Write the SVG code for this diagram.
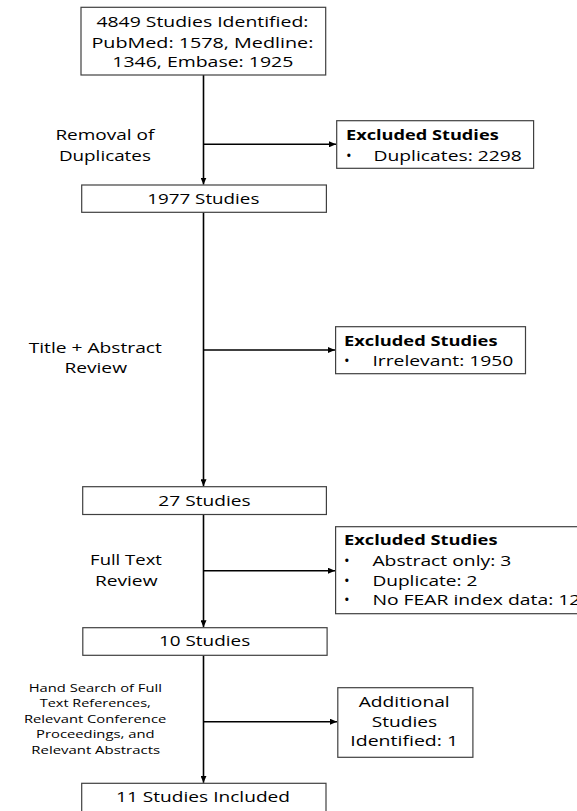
<svg xmlns="http://www.w3.org/2000/svg" width="577" height="811" viewBox="0 0 577 811">
<style>
  .box { fill: #ffffff; stroke: #404040; stroke-width: 1.2; }
  .t { font-family: "Open Sans", "Liberation Sans", sans-serif; font-size: 15px; fill: #000000; }
  .c { text-anchor: middle; }
  .b { font-weight: bold; }
  .s { font-family: "Open Sans", "Liberation Sans", sans-serif; font-size: 11.5px; fill: #000000; text-anchor: middle; }
  .conn { stroke: #000000; stroke-width: 1.6; fill: none; marker-end: url(#arrow); }
</style>
<defs>
  <marker id="arrow" markerUnits="userSpaceOnUse" markerWidth="8" markerHeight="6" refX="7" refY="3" orient="auto">
    <path d="M0,0 L7,3 L0,6 Z" fill="#000000"/>
  </marker>
</defs>
<rect x="0" y="0" width="577" height="811" fill="#ffffff"/>

<g id="connectors">
  <line class="conn" x1="203.5" y1="75" x2="203.5" y2="184.5"/>
  <line class="conn" x1="203.5" y1="144.3" x2="336" y2="144.3"/>
  <line class="conn" x1="203.5" y1="212.3" x2="203.5" y2="486.2"/>
  <line class="conn" x1="203.5" y1="350" x2="335" y2="350"/>
  <line class="conn" x1="203.5" y1="514.5" x2="203.5" y2="627.2"/>
  <line class="conn" x1="203.5" y1="570.7" x2="335" y2="570.7"/>
  <line class="conn" x1="203.5" y1="655.3" x2="203.5" y2="782.8"/>
  <line class="conn" x1="203.5" y1="721.7" x2="337" y2="721.7"/>
</g>

<g id="n_identified">
  <rect class="box" x="81" y="7.3" width="244.7" height="67.7"/>
  <text class="t c" x="202.4" y="27.2" textLength="212" lengthAdjust="spacingAndGlyphs">4849 Studies Identified:</text>
  <text class="t c" x="202.4" y="48.2" textLength="222" lengthAdjust="spacingAndGlyphs">PubMed: 1578, Medline:</text>
  <text class="t c" x="202.8" y="67.2" textLength="181" lengthAdjust="spacingAndGlyphs">1346, Embase: 1925</text>
</g>

<g id="l_removal">
  <text class="t c" x="104.9" y="139.5" textLength="99" lengthAdjust="spacingAndGlyphs">Removal of</text>
  <text class="t c" x="104.9" y="160.5" textLength="92" lengthAdjust="spacingAndGlyphs">Duplicates</text>
</g>

<g id="n_excluded1">
  <rect class="box" x="336.7" y="120.7" width="196.9" height="47.6"/>
  <text class="t b" x="346" y="139.5" textLength="152.7" lengthAdjust="spacingAndGlyphs">Excluded Studies</text>
  <text class="t" x="346" y="160.5">•</text>
  <text class="t" x="373.5" y="160.5" textLength="148.3" lengthAdjust="spacingAndGlyphs">Duplicates: 2298</text>
</g>

<g id="n_1977">
  <rect class="box" x="81.7" y="185" width="244.7" height="27.3"/>
  <text class="t c" x="203.3" y="203.8" textLength="112.2" lengthAdjust="spacingAndGlyphs">1977 Studies</text>
</g>

<g id="l_title">
  <text class="t c" x="95.3" y="353.2" textLength="133.2" lengthAdjust="spacingAndGlyphs">Title + Abstract</text>
  <text class="t c" x="95.7" y="373.2" textLength="62.6" lengthAdjust="spacingAndGlyphs">Review</text>
</g>

<g id="n_excluded2">
  <rect class="box" x="335.6" y="326.7" width="189.9" height="47"/>
  <text class="t b" x="344" y="345.5" textLength="153.5" lengthAdjust="spacingAndGlyphs">Excluded Studies</text>
  <text class="t" x="344" y="366.2">•</text>
  <text class="t" x="372.4" y="366.2" textLength="141" lengthAdjust="spacingAndGlyphs">Irrelevant: 1950</text>
</g>

<g id="n_27">
  <rect class="box" x="82.7" y="486.7" width="243.7" height="27.8"/>
  <text class="t c" x="204.5" y="506.2" textLength="92.3" lengthAdjust="spacingAndGlyphs">27 Studies</text>
</g>

<g id="l_fulltext">
  <text class="t c" x="126" y="564.8" textLength="71.8" lengthAdjust="spacingAndGlyphs">Full Text</text>
  <text class="t c" x="126.2" y="585.5" textLength="62.6" lengthAdjust="spacingAndGlyphs">Review</text>
</g>

<g id="n_excluded3">
  <rect class="box" x="335.6" y="526.7" width="260" height="87"/>
  <text class="t b" x="344" y="544.8" textLength="153.5" lengthAdjust="spacingAndGlyphs">Excluded Studies</text>
  <text class="t" x="344" y="566.2">•</text>
  <text class="t" x="372.4" y="566.2" textLength="139" lengthAdjust="spacingAndGlyphs">Abstract only: 3</text>
  <text class="t" x="344" y="585.5">•</text>
  <text class="t" x="372.4" y="585.5" textLength="105" lengthAdjust="spacingAndGlyphs">Duplicate: 2</text>
  <text class="t" x="344" y="604.8">•</text>
  <text class="t" x="372.4" y="604.8" textLength="208" lengthAdjust="spacingAndGlyphs">No FEAR index data: 12</text>
</g>

<g id="n_10">
  <rect class="box" x="82.8" y="627.7" width="244.3" height="27.6"/>
  <text class="t c" x="204.6" y="645.5" textLength="91.3" lengthAdjust="spacingAndGlyphs">10 Studies</text>
</g>

<g id="l_handsearch">
  <text class="s" x="95.3" y="691.5" textLength="133.2" lengthAdjust="spacingAndGlyphs">Hand Search of Full</text>
  <text class="s" x="95.3" y="706.9" textLength="111" lengthAdjust="spacingAndGlyphs">Text References,</text>
  <text class="s" x="95.1" y="722.5" textLength="142.4" lengthAdjust="spacingAndGlyphs">Relevant Conference</text>
  <text class="s" x="95.3" y="737.5" textLength="118.5" lengthAdjust="spacingAndGlyphs">Proceedings, and</text>
  <text class="s" x="95.7" y="753.5" textLength="128.8" lengthAdjust="spacingAndGlyphs">Relevant Abstracts</text>
</g>

<g id="n_additional">
  <rect class="box" x="337.8" y="687.7" width="135.1" height="69.6"/>
  <text class="t c" x="404.2" y="706.5" textLength="91" lengthAdjust="spacingAndGlyphs">Additional</text>
  <text class="t c" x="404.5" y="727.2" textLength="65.5" lengthAdjust="spacingAndGlyphs">Studies</text>
  <text class="t c" x="404.2" y="746.2" textLength="107.8" lengthAdjust="spacingAndGlyphs">Identified: 1</text>
</g>

<g id="n_included">
  <rect class="box" x="81.7" y="783.3" width="244.3" height="35"/>
  <text class="t c" x="203" y="802.2" textLength="174" lengthAdjust="spacingAndGlyphs">11 Studies Included</text>
</g>
</svg>
